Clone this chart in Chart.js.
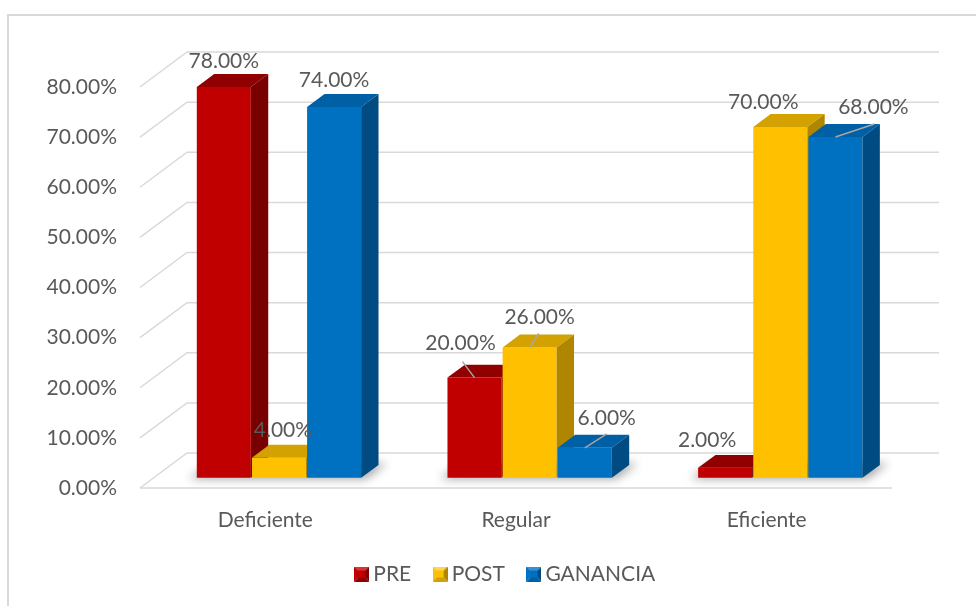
<!DOCTYPE html>
<html>
<head>
<meta charset="utf-8">
<script src="https://cdn.jsdelivr.net/npm/chart.js@4.4.1/dist/chart.umd.min.js"></script>
<style>
  html, body { margin: 0; padding: 0; background: #fff; }
  #wrap { width: 976px; height: 606px; }
</style>
</head>
<body>
<div id="wrap"><canvas id="chart"></canvas></div>
<script>
const CATEGORIES = ['Deficiente', 'Regular', 'Eficiente'];
const SERIES = ['PRE', 'POST', 'GANANCIA'];
const PRE = [78, 20, 2];
const POST = [4, 26, 70];
const GANANCIA = [74, 6, 68];
const Y_MIN = 0, Y_MAX = 80, Y_STEP = 10;

const FONT = { family: 'Lato', size: 21 };
const TEXT = '#595959';
const GRID = '#D9D9D9';

// colours of the three visible faces of each column
const FACES = [
  { front: '#C00000', top: '#900000', side: '#780000', light: '#E03030' },
  { front: '#FFC000', top: '#D4A200', side: '#B08600', light: '#FFD650' },
  { front: '#0070C0', top: '#0060A6', side: '#004B82', light: '#3390D8' }
];

// fake depth: the floor runs back this far, columns sit between z0 and z1
const DEPTH_DX = 47, DEPTH_DY = 35;
const Z0 = 0.29, Z1 = 0.66;

// label nudges from the top-front centre of a column, per series / category
// [dx, dy] or [dx, dy, leaderDx, leaderDy]
const LABEL_NUDGE = [
  [[0, -26], [-14, -34, -12, -16], [-18, -28]],
  [[4, -28], [10, -30, 9, -14], [-17, -25]],
  [[0, -27], [22, -30, 22, -14], [38, -30, 39, -13]]
];

// where the legend row is centred and how far it is lifted from its box
const LEGEND_CENTER_X = 508, LEGEND_SHIFT_Y = -11.5;

const proj = (x, y, z) => [x + DEPTH_DX * z, y - DEPTH_DY * z];

function poly(ctx, pts, fill) {
  ctx.beginPath();
  ctx.moveTo(pts[0][0], pts[0][1]);
  for (let i = 1; i < pts.length; i++) ctx.lineTo(pts[i][0], pts[i][1]);
  ctx.closePath();
  ctx.fillStyle = fill;
  ctx.fill();
}

// small bevelled square for the legend
function bevelBox(f) {
  const s = 15, b = 4;
  const cv = document.createElement('canvas');
  cv.width = cv.height = s;
  const g = cv.getContext('2d');
  poly(g, [[0, 0], [s, 0], [s - b, b], [b, b]], f.light);
  poly(g, [[0, 0], [b, b], [b, s - b], [0, s]], f.front);
  poly(g, [[s, 0], [s, s], [s - b, s - b], [s - b, b]], f.side);
  poly(g, [[0, s], [b, s - b], [s - b, s - b], [s, s]], f.top);
  g.fillStyle = f.front;
  g.fillRect(b, b, s - 2 * b, s - 2 * b);
  return cv;
}

const frame3d = {
  id: 'frame3d',
  afterLayout(chart) {
    // recentre the legend on the whole frame instead of the plot width
    const lg = chart.legend;
    const half = (lg.right - lg.left) / 2;
    lg.left = LEGEND_CENTER_X - half;
    lg.right = LEGEND_CENTER_X + half;
    lg.top += LEGEND_SHIFT_Y;
    lg.bottom += LEGEND_SHIFT_Y;
  },
  beforeDraw(chart) {
    const ctx = chart.ctx;
    ctx.save();
    ctx.strokeStyle = GRID;
    ctx.lineWidth = 2;
    ctx.strokeRect(8, 15, 1000, 620);
    ctx.restore();
  },
  beforeDatasetsDraw(chart) {
    const { ctx, chartArea: a, scales: { y } } = chart;
    ctx.save();
    ctx.strokeStyle = GRID;
    ctx.lineWidth = 1.5;
    // back wall gridlines plus the diagonals on the left wall
    for (let v = Y_MIN; v <= Y_MAX; v += Y_STEP) {
      const py = y.getPixelForValue(v);
      const [bx, by] = proj(a.left, py, 1);
      const [ex] = proj(a.right, py, 1);
      ctx.beginPath();
      ctx.moveTo(a.left, py);
      ctx.lineTo(bx, by);
      ctx.lineTo(ex, by);
      ctx.stroke();
    }
    // front edge of the floor
    const py0 = y.getPixelForValue(Y_MIN);
    ctx.beginPath();
    ctx.moveTo(a.left, py0);
    ctx.lineTo(a.right, py0);
    ctx.stroke();
    ctx.restore();
  },
  afterDatasetsDraw(chart) {
    const ctx = chart.ctx;
    const metas = chart.data.datasets.map((_, i) => chart.getDatasetMeta(i));

    // soft shadow on the floor under each cluster
    ctx.save();
    ctx.filter = 'blur(5px)';
    for (let c = 0; c < CATEGORIES.length; c++) {
      const first = metas[0].data[c], last = metas[metas.length - 1].data[c];
      const x0 = first.x - first.width / 2 - 6, x1 = last.x + last.width / 2 + 6;
      const yb = first.base;
      poly(ctx, [proj(x0, yb, Z0 - 0.03), proj(x1, yb, Z0 - 0.03), proj(x1, yb, Z1 + 0.05), proj(x0, yb, Z1 + 0.05)],
        'rgba(0,0,0,0.35)');
    }
    ctx.restore();

    // columns, left to right so each front face hides the neighbour's side
    for (let c = 0; c < CATEGORIES.length; c++) {
      metas.forEach((meta, s) => {
        const el = meta.data[c], f = FACES[s];
        const x0 = el.x - el.width / 2, x1 = el.x + el.width / 2;
        const yt = el.y, yb = el.base;
        poly(ctx, [proj(x0, yt, Z0), proj(x1, yt, Z0), proj(x1, yb, Z0), proj(x0, yb, Z0)], f.front);
        poly(ctx, [proj(x0, yt, Z0), proj(x1, yt, Z0), proj(x1, yt, Z1), proj(x0, yt, Z1)], f.top);
        poly(ctx, [proj(x1, yt, Z0), proj(x1, yb, Z0), proj(x1, yb, Z1), proj(x1, yt, Z1)], f.side);
      });
    }

    // value labels with leader lines where they were pulled away
    ctx.save();
    ctx.font = `${FONT.size}px ${FONT.family}`;
    ctx.fillStyle = TEXT;
    ctx.textAlign = 'center';
    ctx.textBaseline = 'middle';
    ctx.strokeStyle = '#A6A6A6';
    ctx.lineWidth = 1.5;
    metas.forEach((meta, s) => {
      const values = chart.data.datasets[s].data;
      meta.data.forEach((el, c) => {
        const [tx, ty] = proj(el.x, el.y, Z0);
        const n = LABEL_NUDGE[s][c];
        if (n.length > 2) {
          ctx.beginPath();
          ctx.moveTo(tx + n[2], ty + n[3]);
          ctx.lineTo(tx, ty);
          ctx.stroke();
        }
        ctx.fillText(values[c].toFixed(2) + '%', tx + n[0], ty + n[1]);
      });
    });
    ctx.restore();
  }
};

const sets = [PRE, POST, GANANCIA].map((data, i) => ({
  label: SERIES[i],
  data,
  backgroundColor: 'rgba(0,0,0,0)',
  pointStyle: bevelBox(FACES[i]),
  barPercentage: 0.98,
  categoryPercentage: 0.66
}));

new Chart(document.getElementById('chart'), {
  type: 'bar',
  data: { labels: CATEGORIES, datasets: sets },
  options: {
    responsive: true,
    maintainAspectRatio: false,
    animation: false,
    layout: { padding: { left: 0, right: 84, top: 87, bottom: 0 } },
    scales: {
      x: {
        grid: { display: false },
        border: { display: false },
        ticks: { color: TEXT, font: FONT, padding: 12 },
        afterFit(s) { s.height = 59; }
      },
      y: {
        min: Y_MIN,
        max: Y_MAX,
        grid: { display: false },
        border: { display: false },
        ticks: {
          stepSize: Y_STEP,
          color: TEXT,
          font: FONT,
          padding: 15,
          callback: v => v.toFixed(2) + '%'
        },
        afterFit(s) { s.width = 140; }
      }
    },
    plugins: {
      legend: {
        position: 'bottom',
        labels: {
          usePointStyle: true,
          pointStyleWidth: 2,
          padding: 28,
          color: TEXT,
          font: FONT
        }
      },
      tooltip: { enabled: false }
    }
  },
  plugins: [frame3d]
});
</script>
</body>
</html>
